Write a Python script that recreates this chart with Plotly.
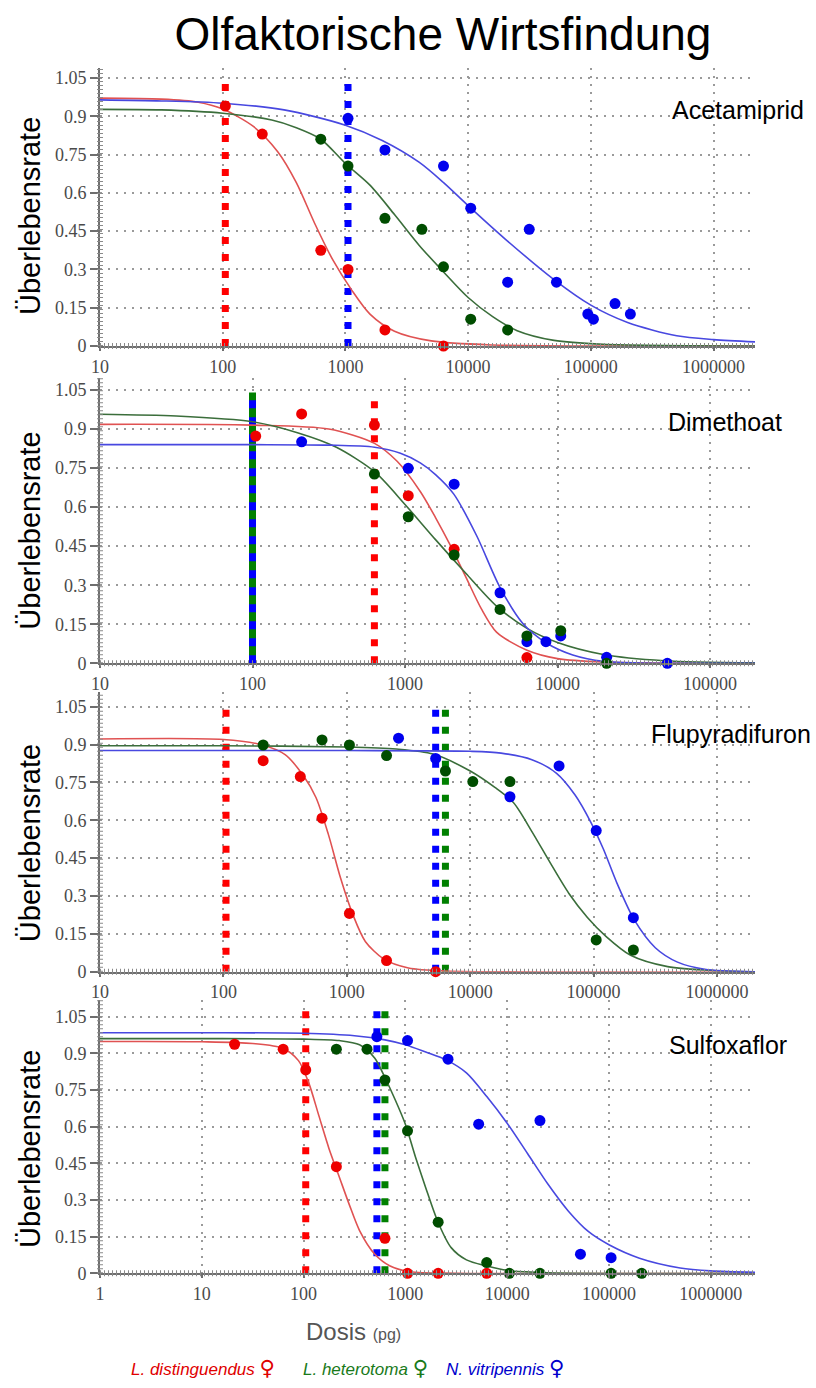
import numpy as np
import plotly.graph_objects as go

W, H = 816, 1388

# ---------------- data ----------------
panel_names = ["Acetamiprid", "Dimethoat", "Flupyradifuron", "Sulfoxaflor"]
species = ["L. distinguendus", "L. heterotoma", "N. vitripennis"]

y_tickvals = [0, 0.15, 0.3, 0.45, 0.6, 0.75, 0.9, 1.05]
y_ticktext = ["0", "0.15", "0.3", "0.45", "0.6", "0.75", "0.9", "1.05"]
x_tickvals = [1, 10, 100, 1000, 10000, 100000, 1000000]
x_ticktext = ["1", "10", "100", "1000", "10000", "100000", "1000000"]

# Acetamiprid: measured survival
acet_red_dose = [105, 210, 630, 1050, 2100, 6300]
acet_red_surv = [0.94, 0.83, 0.375, 0.30, 0.063, 0.0]
acet_green_dose = [630, 1050, 2100, 4200, 6300, 10500, 21000]
acet_green_surv = [0.81, 0.705, 0.50, 0.457, 0.31, 0.105, 0.063]
acet_blue_dose = [1050, 2100, 6300, 10500, 21000, 31500, 52500, 94500, 105000, 157500, 210000]
acet_blue_surv = [0.892, 0.768, 0.705, 0.54, 0.25, 0.457, 0.25, 0.125, 0.105, 0.166, 0.125]
# Acetamiprid: fitted curves (log10 dose, survival)
acet_fit_red_logdose = [1.0, 1.5, 1.8, 2.0, 2.25, 2.45, 2.6, 2.75, 2.9, 3.05, 3.2, 3.4, 3.7, 4.2, 5.0, 6.34]
acet_fit_red_surv = [0.971, 0.967, 0.955, 0.928, 0.86, 0.76, 0.64, 0.48, 0.335, 0.22, 0.125, 0.058, 0.02, 0.004, 0.0, 0.0]
acet_fit_green_logdose = [1.0, 1.5, 2.0, 2.4, 2.6, 2.8, 3.0, 3.2, 3.4, 3.6, 3.8, 4.0, 4.2, 4.4, 4.7, 5.1, 6.34]
acet_fit_green_surv = [0.927, 0.925, 0.912, 0.885, 0.855, 0.81, 0.715, 0.63, 0.515, 0.395, 0.29, 0.19, 0.115, 0.06, 0.022, 0.007, 0.0]
acet_fit_blue_logdose = [1.0, 1.5, 2.0, 2.5, 3.0, 3.3, 3.6, 3.8, 4.0, 4.3, 4.7, 5.0, 5.3, 5.7, 6.0, 6.34]
acet_fit_blue_surv = [0.964, 0.96, 0.951, 0.925, 0.865, 0.805, 0.72, 0.64, 0.55, 0.42, 0.26, 0.16, 0.092, 0.04, 0.025, 0.016]
acet_marks = {"red": [105], "blue": [1050]}

# Dimethoat
dime_red_dose = [105, 210, 630, 1050, 2100, 6300]
dime_red_surv = [0.873, 0.958, 0.915, 0.644, 0.438, 0.022]
dime_green_dose = [630, 1050, 2100, 4200, 6300, 10500, 21000]
dime_green_surv = [0.727, 0.563, 0.416, 0.207, 0.105, 0.125, 0.0]
dime_blue_dose = [210, 1050, 2100, 4200, 6300, 8400, 10500, 21000, 52500]
dime_blue_surv = [0.851, 0.749, 0.688, 0.271, 0.083, 0.083, 0.105, 0.023, 0.0]
dime_fit_red_logdose = [1.0, 2.0, 2.5, 2.8, 2.95, 3.1, 3.2, 3.3, 3.4, 3.5, 3.6, 3.8, 4.0, 4.3, 5.3]
dime_fit_red_surv = [0.918, 0.915, 0.90, 0.845, 0.775, 0.66, 0.56, 0.45, 0.33, 0.21, 0.12, 0.05, 0.018, 0.005, 0.0]
dime_fit_green_logdose = [1.0, 1.5, 2.0, 2.3, 2.55, 2.8, 3.0, 3.2, 3.4, 3.6, 3.8, 4.0, 4.3, 4.7, 5.3]
dime_fit_green_surv = [0.957, 0.95, 0.928, 0.885, 0.83, 0.736, 0.61, 0.475, 0.345, 0.22, 0.134, 0.08, 0.034, 0.01, 0.002]
dime_fit_blue_logdose = [1.0, 2.0, 2.5, 2.8, 2.97, 3.1, 3.2, 3.32, 3.47, 3.62, 3.77, 3.93, 4.1, 4.3, 5.3]
dime_fit_blue_surv = [0.84, 0.84, 0.838, 0.83, 0.807, 0.77, 0.725, 0.65, 0.49, 0.295, 0.155, 0.077, 0.032, 0.008, 0.0]
dime_marks = {"red": [630], "green_blue": [100]}

# Flupyradifuron
flup_red_dose = [210, 420, 630, 1050, 2100, 5250]
flup_red_surv = [0.836, 0.773, 0.608, 0.231, 0.044, 0.0]
flup_green_dose = [210, 630, 1050, 2100, 6300, 10500, 21000, 105000, 210000]
flup_green_surv = [0.898, 0.918, 0.898, 0.856, 0.795, 0.753, 0.753, 0.126, 0.086]
flup_blue_dose = [2625, 5250, 21000, 52500, 105000, 210000]
flup_blue_surv = [0.925, 0.845, 0.693, 0.815, 0.559, 0.214]
flup_fit_red_logdose = [1.0, 2.0, 2.3, 2.5, 2.65, 2.75, 2.85, 2.95, 3.05, 3.15, 3.3, 3.5, 3.8, 6.31]
flup_fit_red_surv = [0.922, 0.92, 0.90, 0.86, 0.775, 0.69, 0.545, 0.37, 0.225, 0.12, 0.05, 0.015, 0.003, 0.0]
flup_fit_green_logdose = [1.0, 2.0, 3.0, 3.4, 3.7, 4.0, 4.2, 4.35, 4.5, 4.65, 4.8, 4.95, 5.1, 5.3, 5.6, 6.0, 6.31]
flup_fit_green_surv = [0.895, 0.895, 0.89, 0.882, 0.862, 0.795, 0.73, 0.67, 0.555, 0.43, 0.31, 0.215, 0.14, 0.065, 0.02, 0.004, 0.0]
flup_fit_blue_logdose = [1.0, 3.0, 4.0, 4.25, 4.5, 4.7, 4.85, 4.98, 5.08, 5.19, 5.33, 5.5, 5.68, 5.9, 6.31]
flup_fit_blue_surv = [0.876, 0.876, 0.873, 0.866, 0.84, 0.786, 0.70, 0.59, 0.485, 0.35, 0.205, 0.095, 0.038, 0.01, 0.0]
flup_marks = {"red": [105], "blue": [5250], "green": [6300]}

# Sulfoxaflor
sulf_red_dose = [21, 63, 105, 210, 630, 1050, 2100, 6300]
sulf_red_surv = [0.937, 0.917, 0.832, 0.436, 0.143, 0.0, 0.0, 0.0]
sulf_green_dose = [210, 420, 630, 1050, 2100, 6300, 10500, 21000, 105000, 210000]
sulf_green_surv = [0.917, 0.917, 0.791, 0.583, 0.209, 0.044, 0.0, 0.0, 0.0, 0.0]
sulf_blue_dose = [525, 1050, 2625, 5250, 21000, 52500, 105000]
sulf_blue_surv = [0.968, 0.952, 0.876, 0.61, 0.625, 0.078, 0.064]
sulf_fit_red_logdose = [0.0, 1.0, 1.5, 1.8, 1.95, 2.05, 2.15, 2.25, 2.35, 2.45, 2.55, 2.7, 2.85, 3.05, 3.5, 6.44]
sulf_fit_red_surv = [0.948, 0.947, 0.94, 0.92, 0.87, 0.78, 0.645, 0.51, 0.395, 0.28, 0.175, 0.078, 0.03, 0.006, 0.0, 0.0]
sulf_fit_green_logdose = [0.0, 1.0, 2.0, 2.35, 2.55, 2.7, 2.8, 2.9, 3.0, 3.1, 3.2, 3.32, 3.45, 3.6, 3.8, 4.0, 4.4, 6.44]
sulf_fit_green_surv = [0.96, 0.96, 0.958, 0.952, 0.935, 0.88, 0.80, 0.71, 0.61, 0.475, 0.35, 0.21, 0.105, 0.055, 0.03, 0.012, 0.002, 0.0]
sulf_fit_blue_logdose = [0.0, 1.0, 2.0, 2.5, 2.8, 3.0, 3.2, 3.4, 3.6, 3.8, 4.0, 4.2, 4.4, 4.6, 4.8, 5.0, 5.3, 5.7, 6.0, 6.44]
sulf_fit_blue_surv = [0.984, 0.984, 0.982, 0.972, 0.955, 0.935, 0.905, 0.873, 0.82, 0.723, 0.614, 0.49, 0.365, 0.255, 0.17, 0.117, 0.062, 0.022, 0.01, 0.004]
sulf_marks = {"red": [105], "blue": [525], "green": [630]}

# ---------------- styling ----------------
PT = {"red": "#ee0000", "green": "#004d00", "blue": "#0000ee"}
FIT = {"red": "#e05252", "green": "#3b6e3b", "blue": "#4848e0"}
MARK = {"red": "#ff0000", "green": "#008000", "blue": "#0000ff"}

# pixel layout of each panel: top, bottom (y=0), y-range top, x-range in log10
panels = [
    dict(top=68, bottom=346, ymax=1.089, xr=[1, 6.338], line_top=1.05),
    dict(top=378, bottom=663.3, ymax=1.096, xr=[1, 5.295], line_top=1.04),
    dict(top=692, bottom=971.7, ymax=1.108, xr=[1, 6.308], line_top=1.05),
    dict(top=1000, bottom=1273.3, ymax=1.118, xr=[0, 6.435], line_top=1.08),
]
X0, X1 = 100, 755

series = [
    dict(pts={"red": (acet_red_dose, acet_red_surv), "green": (acet_green_dose, acet_green_surv),
              "blue": (acet_blue_dose, acet_blue_surv)},
         fit={"red": (acet_fit_red_logdose, acet_fit_red_surv), "green": (acet_fit_green_logdose, acet_fit_green_surv),
              "blue": (acet_fit_blue_logdose, acet_fit_blue_surv)},
         marks=acet_marks),
    dict(pts={"red": (dime_red_dose, dime_red_surv), "green": (dime_green_dose, dime_green_surv),
              "blue": (dime_blue_dose, dime_blue_surv)},
         fit={"red": (dime_fit_red_logdose, dime_fit_red_surv), "green": (dime_fit_green_logdose, dime_fit_green_surv),
              "blue": (dime_fit_blue_logdose, dime_fit_blue_surv)},
         marks=dime_marks),
    dict(pts={"red": (flup_red_dose, flup_red_surv), "green": (flup_green_dose, flup_green_surv),
              "blue": (flup_blue_dose, flup_blue_surv)},
         fit={"red": (flup_fit_red_logdose, flup_fit_red_surv), "green": (flup_fit_green_logdose, flup_fit_green_surv),
              "blue": (flup_fit_blue_logdose, flup_fit_blue_surv)},
         marks=flup_marks),
    dict(pts={"red": (sulf_red_dose, sulf_red_surv), "green": (sulf_green_dose, sulf_green_surv),
              "blue": (sulf_blue_dose, sulf_blue_surv)},
         fit={"red": (sulf_fit_red_logdose, sulf_fit_red_surv), "green": (sulf_fit_green_logdose, sulf_fit_green_surv),
              "blue": (sulf_fit_blue_logdose, sulf_fit_blue_surv)},
         marks=sulf_marks),
]


def py(y):
    return 1 - y / H


def px(x):
    return x / W


fig = go.Figure()
layout = dict(width=W, height=H, margin=dict(l=0, r=0, t=0, b=0, autoexpand=False),
              paper_bgcolor="white", plot_bgcolor="white", showlegend=False)
shapes, annotations = [], []

tick_font = dict(family="Liberation Serif, Times New Roman, serif", size=18, color="#4a4a4a")

for i, (p, s) in enumerate(zip(panels, series)):
    n = i + 1
    suffix = "" if n == 1 else str(n)
    xa, ya = "x" + suffix, "y" + suffix
    layout["xaxis" + suffix] = dict(
        domain=[px(X0), px(X1)], anchor=ya, type="log", range=p["xr"], automargin=False,
        tickvals=x_tickvals, ticktext=x_ticktext, tickfont=tick_font,
        showgrid=True, gridcolor="#9a9a9a", gridwidth=1.5, griddash="2px,6px",
        showline=True, linecolor="#6e6e6e", linewidth=2,
        ticks="outside", ticklen=3, tickwidth=1.5, tickcolor="#6e6e6e",
        zeroline=False, fixedrange=True)
    layout["yaxis" + suffix] = dict(
        domain=[py(p["bottom"]), py(p["top"])], anchor=xa, range=[0, p["ymax"]], automargin=False,
        tickvals=y_tickvals, ticktext=y_ticktext, tickfont=tick_font,
        showgrid=True, gridcolor="#9a9a9a", gridwidth=1.5, griddash="2px,6px",
        showline=True, linecolor="#6e6e6e", linewidth=2,
        ticks="outside", ticklen=8, tickwidth=1.5, tickcolor="#6e6e6e",
        zeroline=False, fixedrange=True)

    # ruler-like minor ticks along both axis lines
    shapes.append(dict(type="line", xref=f"{xa} domain", yref=f"{ya} domain",
                       x0=0, x1=0, y0=0, y1=1, layer="above",
                       line=dict(color="#8a8a8a", width=6, dash="1px,3px")))
    shapes.append(dict(type="line", xref=f"{xa} domain", yref=f"{ya} domain",
                       x0=0, x1=1, y0=0, y1=0, layer="above",
                       line=dict(color="#8a8a8a", width=6, dash="1px,3px")))

    # vertical threshold markers
    top = p["line_top"]
    for key, doses in s["marks"].items():
        for d in doses:
            if key == "green_blue":
                fig.add_trace(go.Scatter(x=[d, d], y=[0, top], mode="lines", xaxis=xa, yaxis=ya,
                                         line=dict(color=MARK["green"], width=7), hoverinfo="skip"))
                fig.add_trace(go.Scatter(x=[d, d], y=[0, top], mode="lines", xaxis=xa, yaxis=ya,
                                         line=dict(color=MARK["blue"], width=7, dash="8px,9px"), hoverinfo="skip"))
            else:
                fig.add_trace(go.Scatter(x=[d, d], y=[0, top], mode="lines", xaxis=xa, yaxis=ya,
                                         line=dict(color=MARK[key], width=7, dash="7px,10px"), hoverinfo="skip"))

    # fitted dose-response curves
    for key in ["red", "green", "blue"]:
        lx, ly = s["fit"][key]
        fig.add_trace(go.Scatter(x=10 ** np.array(lx, dtype=float), y=ly, mode="lines",
                                 xaxis=xa, yaxis=ya, hoverinfo="skip",
                                 line=dict(color=FIT[key], width=1.6, shape="spline", smoothing=0.8)))

    # measured points
    for key in ["blue", "red", "green"]:
        dx, dy = s["pts"][key]
        fig.add_trace(go.Scatter(x=dx, y=dy, mode="markers", xaxis=xa, yaxis=ya, cliponaxis=False,
                                 marker=dict(color=PT[key], size=11, line=dict(width=0))))

    # y-axis title, centred on the 0..1.05 span
    y105 = p["bottom"] - 1.05 * (p["bottom"] - p["top"]) / p["ymax"]
    annotations.append(dict(text="Überlebensrate", x=px(30), y=py((p["bottom"] + y105) / 2 + 4),
                            xref="paper", yref="paper", showarrow=False, textangle=-90,
                            xanchor="center", yanchor="middle",
                            font=dict(family="Liberation Sans, Arial, sans-serif", size=29, color="black")))

# panel labels
label_pos = [(806, 110), (784, 422), (813, 734), (789, 1045)]
for name, (lx, ly) in zip(panel_names, label_pos):
    annotations.append(dict(text=name, x=px(lx), y=py(ly), xref="paper", yref="paper",
                            showarrow=False, xanchor="right", yanchor="middle",
                            font=dict(family="Liberation Sans, Arial, sans-serif", size=25, color="black")))

# x-axis title
annotations.append(dict(text="Dosis <span style='font-size:16px'>(pg)</span>", x=px(353), y=py(1331),
                        xref="paper", yref="paper", showarrow=False, xanchor="center", yanchor="middle",
                        font=dict(family="Liberation Sans, Arial, sans-serif", size=24, color="#555555")))

# species key
key_colors = ["#e00000", "#1a7a1a", "#0000cc"]
key_x = [203, 365, 505]
for name, col, kx in zip(species, key_colors, key_x):
    annotations.append(dict(
        text=f"<i>{name}</i> <span style='font-family:DejaVu Sans; font-size:21px'>\u2640</span>",
        x=px(kx), y=py(1368), xref="paper", yref="paper",
        showarrow=False, xanchor="center", yanchor="middle",
        font=dict(family="Liberation Sans, Arial, sans-serif", size=17, color=col)))

layout["title"] = dict(text="Olfaktorische Wirtsfindung", x=px(443), xanchor="center",
                       y=py(34), yanchor="middle",
                       font=dict(family="Liberation Sans, Arial, sans-serif", size=46, color="black"))
layout["shapes"] = shapes
layout["annotations"] = annotations
fig.update_layout(**layout)

fig.write_html("out.html")
